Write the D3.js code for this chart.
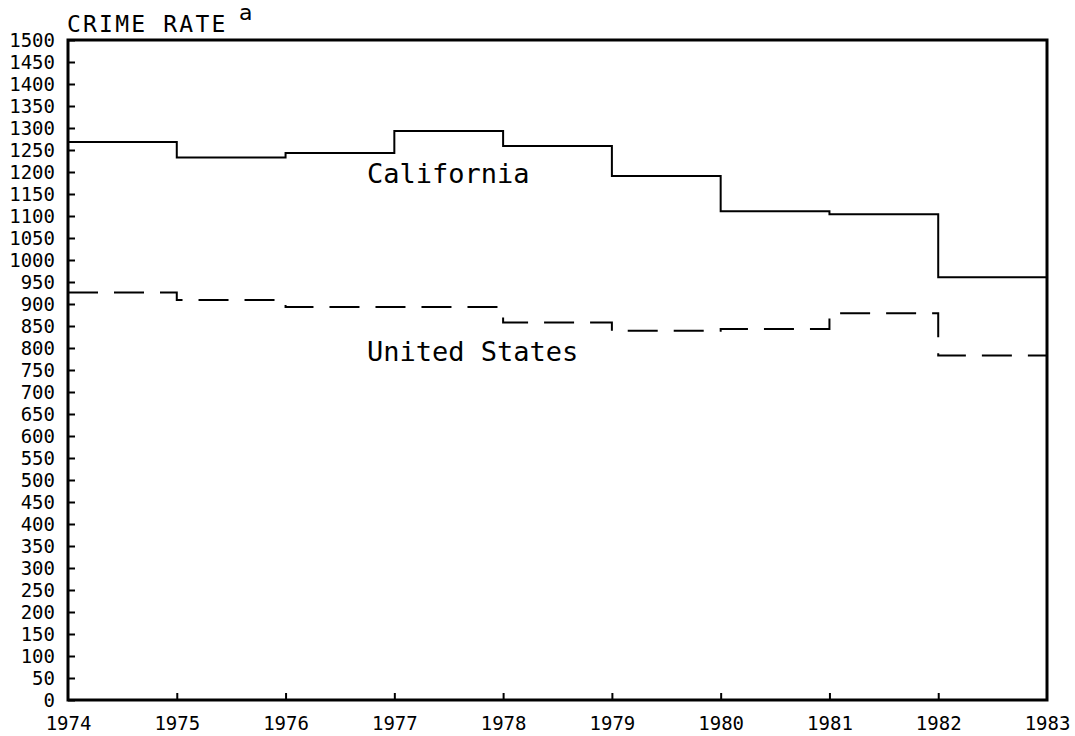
<!DOCTYPE html>
<html>
<head>
<meta charset="utf-8">
<script src="https://cdn.jsdelivr.net/npm/d3@7"></script>
<style>
  body { margin: 0; background: #fff; }
  svg text { fill: #000; }
</style>
</head>
<body>
<script>
var w = 1075;
var h = 736;

var years = [1974, 1975, 1976, 1977, 1978, 1979, 1980, 1981, 1982];
var california = [1268, 1233, 1243, 1293, 1259, 1191, 1111, 1104, 961];
var unitedStates = [926, 909, 893, 893, 858, 839, 843, 879, 783];
var yTicks = d3.range(0, 1501, 50);
var xTicks = [1974, 1975, 1976, 1977, 1978, 1979, 1980, 1981, 1982, 1983];

var margin = {top: 40, right: 28, bottom: 36, left: 68};

var svg = d3.select("body").append("svg")
    .attr("width", w)
    .attr("height", h);

var x = d3.scaleLinear()
    .domain([1974, 1983])
    .range([margin.left, w - margin.right]);

var y = d3.scaleLinear()
    .domain([0, 1500])
    .range([h - margin.bottom, margin.top]);

// step series: each value holds for its year, last one runs to 1983
function steps(values) {
    var pts = years.map(function(yr, i) { return [yr, values[i]]; });
    pts.push([1983, values[values.length - 1]]);
    return pts;
}

var line = d3.line()
    .x(function(d) { return x(d[0]); })
    .y(function(d) { return y(d[1]); })
    .curve(d3.curveStepAfter);

// frame
svg.append("rect")
    .attr("x", x(1974))
    .attr("y", y(1500))
    .attr("width", x(1983) - x(1974))
    .attr("height", y(0) - y(1500))
    .style("fill", "none")
    .style("stroke", "#000")
    .style("stroke-width", 3);

// y axis
var yAxis = svg.append("g")
    .attr("transform", "translate(" + x(1974) + ",0)")
    .call(d3.axisLeft(y).tickValues(yTicks).tickFormat(d3.format("d")).tickSize(-7).tickPadding(13));

// x axis
var xAxis = svg.append("g")
    .attr("transform", "translate(0," + y(0) + ")")
    .call(d3.axisBottom(x).tickValues(xTicks).tickFormat(d3.format("d")).tickSize(-7).tickPadding(17));

[yAxis, xAxis].forEach(function(a) {
    a.select(".domain").remove();
    a.selectAll(".tick line").style("stroke", "#000").style("stroke-width", 2);
    a.selectAll(".tick text")
        .style("font-family", "'DejaVu Sans Mono', monospace")
        .style("font-size", "19px")
        .style("fill", "#000");
});
xAxis.selectAll(".tick").filter(function(d) { return d === 1983 || d === 1974; })
    .select("line").remove();

// series
svg.append("path")
    .datum(steps(california))
    .attr("d", line)
    .style("fill", "none")
    .style("stroke", "#000")
    .style("stroke-width", 2);

svg.append("path")
    .datum(steps(unitedStates))
    .attr("d", line)
    .style("fill", "none")
    .style("stroke", "#000")
    .style("stroke-width", 2)
    .style("stroke-dasharray", "30,16");

// labels
svg.append("text")
    .attr("x", 367)
    .attr("y", 183)
    .style("font-family", "'DejaVu Sans Mono', monospace")
    .style("font-size", "27px")
    .text("California");

svg.append("text")
    .attr("x", 367)
    .attr("y", 361)
    .style("font-family", "'DejaVu Sans Mono', monospace")
    .style("font-size", "27px")
    .text("United States");

svg.append("text")
    .attr("x", 67)
    .attr("y", 32)
    .style("font-family", "'DejaVu Sans Mono', monospace")
    .style("font-size", "23px")
    .style("letter-spacing", "2.2px")
    .text("CRIME RATE");

svg.append("text")
    .attr("x", 239)
    .attr("y", 20)
    .style("font-family", "'DejaVu Sans', sans-serif")
    .style("font-size", "22px")
    .text("a");
</script>
</body>
</html>
